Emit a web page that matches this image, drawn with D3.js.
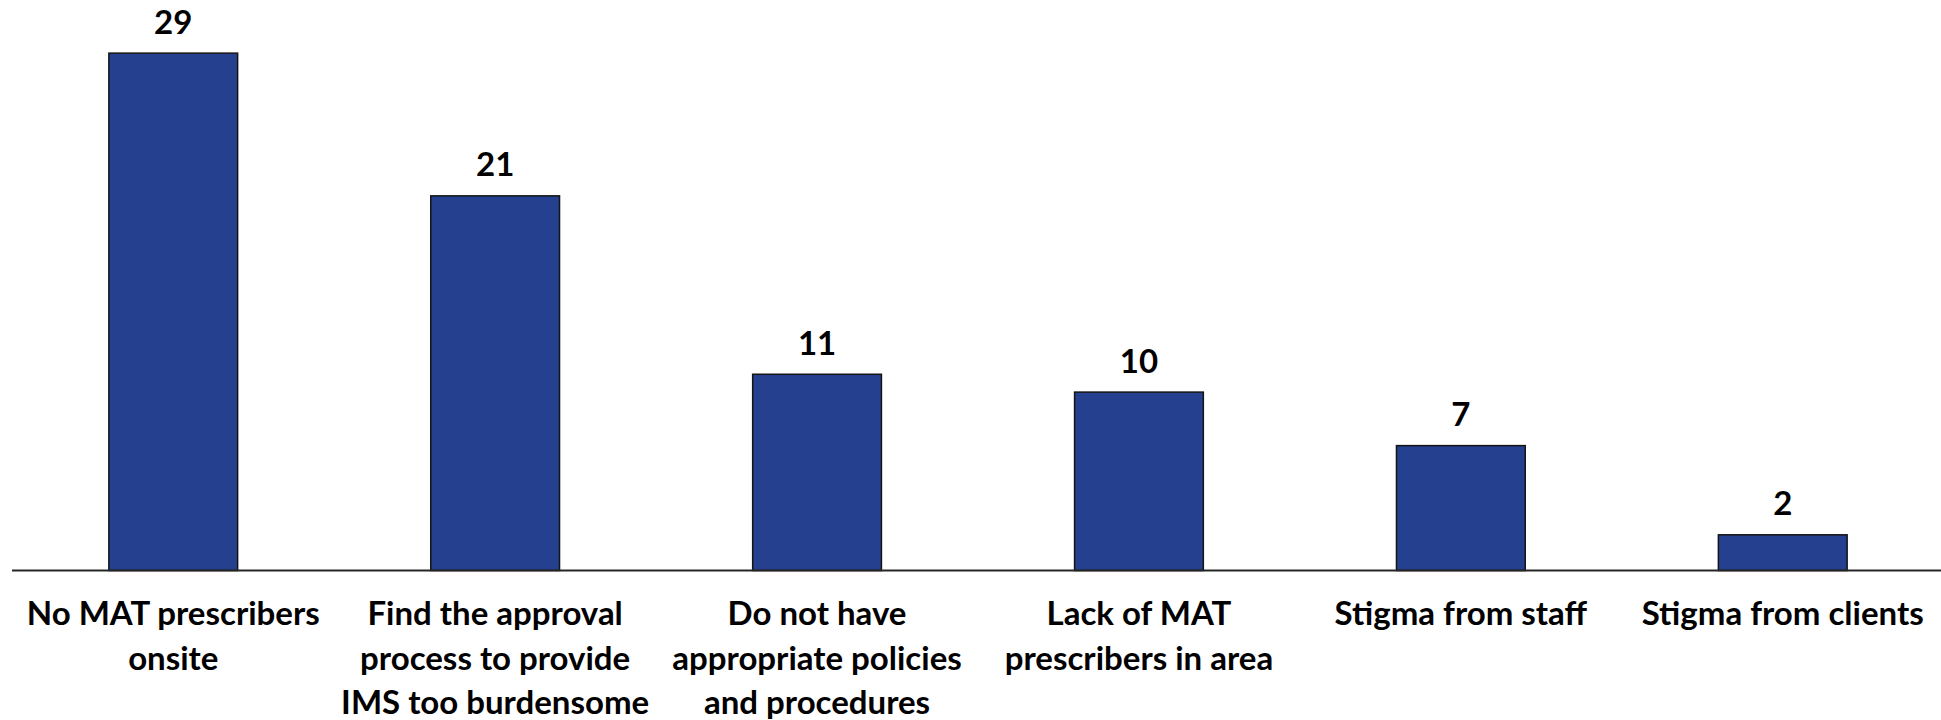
<!DOCTYPE html>
<html>
<head>
<meta charset="utf-8">
<script src="https://cdn.jsdelivr.net/npm/d3@7"></script>
<style>
  html, body { margin: 0; padding: 0; background: #ffffff; }
  svg { display: block; }
  text { font-family: "Lato", "Carlito", "Liberation Sans", sans-serif; font-weight: 700; fill: #000; }
</style>
</head>
<body>
<svg id="chart" width="1941" height="720"></svg>
<script>
// Reported barriers to providing IMS (number of respondents)
const categories = [
  "No MAT prescribers onsite",
  "Find the approval process to provide IMS too burdensome",
  "Do not have appropriate policies and procedures",
  "Lack of MAT prescribers in area",
  "Stigma from staff",
  "Stigma from clients"
];
// Wrapped lines of each category label
const categoryLines = [
  ["No MAT prescribers", "onsite"],
  ["Find the approval", "process to provide", "IMS too burdensome"],
  ["Do not have", "appropriate policies", "and procedures"],
  ["Lack of MAT", "prescribers in area"],
  ["Stigma from staff"],
  ["Stigma from clients"]
];
const counts = [29, 21, 11, 10, 7, 2];

const width = 1941, height = 720;
const baseY = 570.5;
const fontSize = 33;

const svg = d3.select("#chart");

const x = d3.scaleBand()
  .domain(categories)
  .range([12.3, 1943.7])
  .paddingInner(0.6)
  .paddingOuter(0.3);

const y = d3.scaleLinear()
  .domain([0, 30])
  .range([baseY, 35.3]);

// Bars
svg.append("g")
  .selectAll("rect")
  .data(counts)
  .join("rect")
  .attr("x", (d, i) => x(categories[i]))
  .attr("y", d => y(d))
  .attr("width", x.bandwidth())
  .attr("height", d => baseY - y(d))
  .attr("fill", "#25408f")
  .attr("stroke", "#141414")
  .attr("stroke-width", 1.5);

// Value labels
svg.append("g")
  .selectAll("text")
  .data(counts)
  .join("text")
  .attr("x", (d, i) => x(categories[i]) + x.bandwidth() / 2)
  .attr("y", d => y(d) - 19.5)
  .attr("text-anchor", "middle")
  .style("font-size", fontSize + "px")
  .text(d => d);

// Category axis (baseline only, no ticks)
const axis = d3.axisBottom(x).tickSize(0).tickFormat("");
const axisG = svg.append("g")
  .attr("transform", `translate(0,${baseY})`)
  .call(axis);
axisG.select(".domain")
  .attr("d", `M12,0H${width}`)
  .attr("stroke", "#262626")
  .attr("stroke-width", 2);

// Wrapped category labels
const labelG = svg.append("g");
categories.forEach((c, i) => {
  const cx = x(c) + x.bandwidth() / 2;
  const t = labelG.append("text")
    .attr("text-anchor", "middle")
    .style("font-size", fontSize + "px")
    .attr("x", cx)
    .attr("y", 625);
  categoryLines[i].forEach((line, j) => {
    t.append("tspan")
      .attr("x", cx)
      .attr("y", 625 + j * 44.6)
      .text(line);
  });
});
</script>
</body>
</html>
